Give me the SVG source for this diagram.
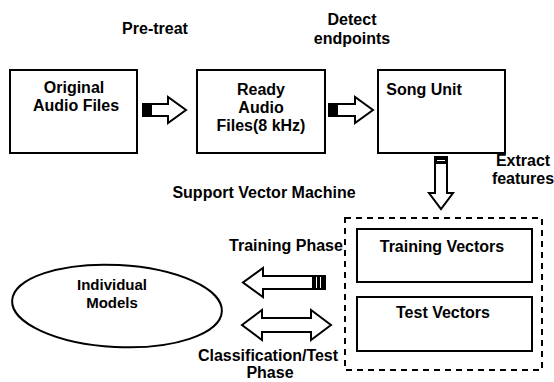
<svg xmlns="http://www.w3.org/2000/svg" width="554" height="382" viewBox="0 0 554 382">
  <style>
    .box { fill: #fff; stroke: #000; stroke-width: 2; }
    .arrow { fill: #fff; stroke: #000; stroke-width: 2; stroke-linejoin: miter; }
    .tail { fill: #000; }
    .t { font-family: "Liberation Sans", Arial, sans-serif; font-size: 16px; font-weight: bold; fill: #000; text-anchor: middle; }
    .tl { font-family: "Liberation Sans", Arial, sans-serif; font-size: 15px; font-weight: bold; fill: #000; text-anchor: middle; }
    .dash { fill: none; stroke: #000; stroke-width: 2; stroke-dasharray: 6 5; }
  </style>
  <rect width="554" height="382" fill="#fff"/>

  <!-- step labels -->
  <g id="labels">
    <text class="t" x="155" y="34">Pre-treat</text>
    <text class="t" x="352" y="25">Detect</text>
    <text class="t" x="352" y="44">endpoints</text>
    <text class="t" x="523" y="166">Extract</text>
    <text class="t" x="523" y="184">features</text>
    <text class="t" x="264" y="198">Support Vector Machine</text>
    <text class="t" x="286" y="251">Training Phase</text>
    <text class="t" x="268" y="361">Classification/Test</text>
    <text class="t" x="270" y="378">Phase</text>
  </g>

  <g id="original-audio">
    <rect class="box" x="10" y="70" width="127" height="83"/>
    <text class="t" x="74" y="93">Original</text>
    <text class="t" x="76" y="111">Audio Files</text>
  </g>

  <g id="ready-audio">
    <rect class="box" x="197" y="70" width="128" height="83"/>
    <text class="t" x="261" y="95">Ready</text>
    <text class="t" x="261" y="113">Audio</text>
    <text class="t" x="261" y="131">Files(8 kHz)</text>
  </g>

  <g id="song-unit">
    <rect class="box" x="378" y="70" width="127" height="83"/>
    <text class="t" x="424" y="95">Song Unit</text>
  </g>

  <g id="svm">
    <rect class="dash" x="345" y="218" width="197" height="152"/>
  </g>

  <g id="training-vectors">
    <rect class="box" x="357" y="229" width="175" height="53"/>
    <text class="t" x="442" y="252">Training Vectors</text>
  </g>

  <g id="test-vectors">
    <rect class="box" x="357" y="297" width="175" height="54"/>
    <text class="t" x="443" y="318">Test Vectors</text>
  </g>

  <g id="individual-models">
    <ellipse cx="117" cy="306" rx="105" ry="41" fill="#fff" stroke="#000" stroke-width="2" transform="rotate(3 117 306)"/>
    <text class="tl" x="112" y="290">Individual</text>
    <text class="tl" x="112" y="308">Models</text>
  </g>

  <!-- block arrows between stages -->
  <g id="connectors">
    <path class="arrow" d="M143,104 H168 V97 L186,110 L168,123 V116 H143 Z"/>
    <rect class="tail" x="143" y="104" width="9" height="12"/>

    <path class="arrow" d="M329,104 H355 V97 L373,110 L355,123 V116 H329 Z"/>
    <rect class="tail" x="329" y="104" width="9" height="12"/>

    <path class="arrow" d="M435,157 V193 H429 L441,209 L453,193 H447 V157 Z"/>
    <rect class="tail" x="435" y="157" width="12" height="7"/>
    <line x1="437" y1="160.5" x2="445" y2="160.5" stroke="#fff" stroke-width="1"/>

    <path class="arrow" d="M325,276 H263 V268 L243,282.5 L263,297 V289 H325 Z"/>
    <rect class="tail" x="312" y="276" width="13" height="13"/>
    <line x1="316.5" y1="277" x2="316.5" y2="288" stroke="#fff" stroke-width="1"/>
    <line x1="320.5" y1="277" x2="320.5" y2="288" stroke="#fff" stroke-width="1"/>

    <path class="arrow" d="M242,325 L262,310 V318 H311 V310 L331,325 L311,340 V332 H262 V340 Z"/>
  </g>
</svg>
